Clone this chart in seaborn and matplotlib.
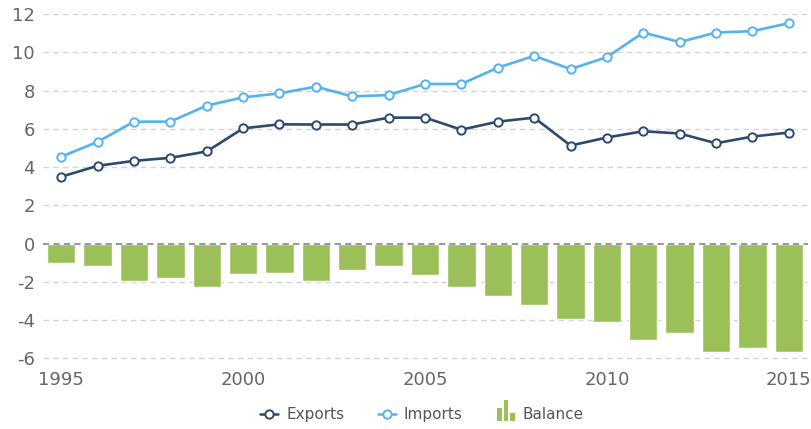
import pandas as pd
import matplotlib.pyplot as plt
import seaborn as sns
from matplotlib.legend_handler import HandlerBase
from matplotlib.lines import Line2D
from matplotlib.patches import Rectangle

years = list(range(1995, 2016))
exports = [3.50, 4.07, 4.33, 4.49, 4.82, 6.03, 6.24, 6.23, 6.23, 6.59, 6.59,
           5.96, 6.38, 6.59, 5.13, 5.55, 5.88, 5.76, 5.25, 5.60, 5.81]
imports = [4.55, 5.32, 6.38, 6.38, 7.22, 7.65, 7.86, 8.21, 7.70, 7.77, 8.35,
           8.35, 9.20, 9.82, 9.13, 9.75, 11.04, 10.54, 11.04, 11.11, 11.53]
balance = [-1.01, -1.15, -1.93, -1.79, -2.28, -1.58, -1.51, -1.93, -1.37, -1.15, -1.63,
           -2.28, -2.71, -3.20, -3.96, -4.10, -5.03, -4.68, -5.67, -5.44, -5.67]
year_ticks = [1995, 2000, 2005, 2010, 2015]
y_ticks = [-6, -4, -2, 0, 2, 4, 6, 8, 10, 12]

c_exp = '#2d4a6d'
c_imp = '#55b3ec'
c_bal = '#9bbf59'

df = pd.DataFrame({'year': years, 'Exports': exports, 'Imports': imports, 'Balance': balance})

sns.set_style("white")
plt.rcParams['font.family'] = ['DejaVu Sans']
plt.rcParams['axes.unicode_minus'] = False

fig = plt.figure(figsize=(8.11, 4.29), dpi=100)
ax = fig.add_axes([0.053, 0.16, 0.943, 0.807])

# dashed grid, drawn under the marks
for t in y_ticks:
    if t == 0:
        continue
    ax.axhline(t, color='#d3d3d3', lw=1, ls=(0, (4, 3)), zorder=0)

sns.barplot(data=df, x='year', y='Balance', native_scale=True, color=c_bal,
            saturation=1, width=0.78, ax=ax, zorder=2)
ax.axhline(0, color='#9a9a9a', lw=1.5, ls=(0, (3, 2)), zorder=3)

for col, c in [('Exports', c_exp), ('Imports', c_imp)]:
    sns.lineplot(data=df, x='year', y=col, color=c, lw=1.9, marker='o',
                 markersize=6, markerfacecolor='white', markeredgecolor=c,
                 markeredgewidth=1.4, ax=ax, zorder=4)

ax.set_xlim(1994.5, 2015.52)
ax.set_ylim(-6.1, 12)
ax.set_xticks(year_ticks)
ax.set_yticks(y_ticks)
ax.set_xlabel('')
ax.set_ylabel('')
ax.tick_params(axis='y', length=0, pad=6, labelsize=13, labelcolor='#666666')
ax.tick_params(axis='x', length=0, pad=8, labelsize=13, labelcolor='#666666')
sns.despine(ax=ax, left=True, bottom=True)


class BarsIcon:
    pass


class HandlerBars(HandlerBase):
    # little three-bar icon like the one in the legend of the original
    def create_artists(self, legend, orig_handle, xdescent, ydescent,
                       width, height, fontsize, trans):
        arts = []
        bw = width * 0.25
        x0 = width * 0.05 - xdescent
        for i, h in enumerate([1.3, 2.0, 0.8]):
            r = Rectangle((x0 + i * bw * 1.4, -ydescent - 1.5), bw, height * h,
                          facecolor=c_bal, edgecolor='none', transform=trans)
            arts.append(r)
        return arts


h_exp = Line2D([], [], color=c_exp, lw=1.8, marker='o', markersize=6,
               markerfacecolor='white', markeredgecolor=c_exp, markeredgewidth=1.4)
h_imp = Line2D([], [], color=c_imp, lw=1.8, marker='o', markersize=6,
               markerfacecolor='white', markeredgecolor=c_imp, markeredgewidth=1.4)
fig.legend([h_exp, h_imp, BarsIcon()], ['Exports', 'Imports', 'Balance'],
           handler_map={BarsIcon: HandlerBars()},
           loc='center', bbox_to_anchor=(0.52, 0.033), ncol=3, frameon=False,
           fontsize=11, labelcolor='#555555', handlelength=1.2, handletextpad=0.5,
           columnspacing=2.2)

fig.savefig('out.png', dpi=100)
